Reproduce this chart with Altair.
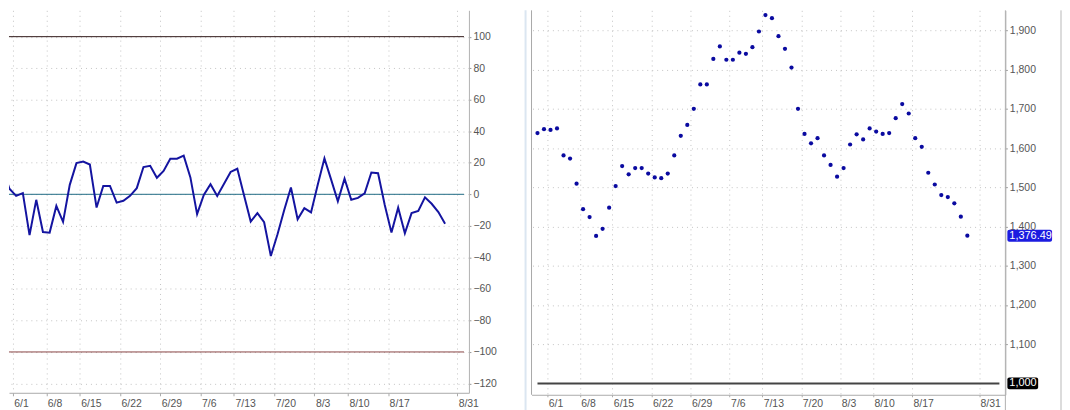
import altair as alt
import pandas as pd

# ---- data ----
osc = [16.2, 3.5, -1.0, 0.8, -25.9, -3.5, -23.9, -24.3, -7.4, -17.5, 6.0, 19.8, 20.8, 18.9,
       -8.4, 5.3, 5.3, -5.3, -4.1, -1.0, 3.9, 17.3, 18.1, 10.5, 14.8, 22.6, 22.6, 24.5, 10.7,
       -12.6, -0.4, 6.4, -1.0, 6.6, 14.2, 16.2,
       -0.6, -17.3, -11.9, -17.7, -39.1, -25.3, -9.9, 4.3, -15.8, -8.8, -11.5, 6.0, 22.8, 9.3,
       -4.5, 9.9, -3.5, -2.3, 0.6, 13.8, 13.4, -6.8, -24.3, -8.5, -24.7, -11.9, -10.5, -1.9,
       -6.0, -11.3, -18.7]
price = [1638, 1648, 1646, 1650, 1581, 1573, 1509, 1444, 1424, 1376, 1394, 1448, 1503, 1554,
         1533, 1549, 1549, 1535, 1525, 1523, 1535, 1581, 1631, 1659, 1700, 1762, 1762, 1827,
         1859, 1825, 1825, 1843, 1840, 1857, 1897, 1939, 1931, 1885, 1853, 1805,
         1700, 1636, 1612, 1625, 1581, 1557, 1527, 1549, 1609, 1635, 1622, 1650, 1642, 1636,
         1638, 1676, 1712, 1688, 1625, 1603, 1537, 1507, 1480, 1475, 1459, 1425, 1376.49]
tick_idx = [1.5, 6.5, 11.5, 17.5, 23.5, 29.5, 34.5, 40.5, 46.5, 51.5, 57.5, 67.8]
tick_labels = ["6/1", "6/8", "6/15", "6/22", "6/29", "7/6", "7/13", "7/20", "8/3", "8/10",
               "8/17", "8/31"]
osc_levels = [100, 0, -100]
osc_level_colors = ["#301818", "#1e6b84", "#8a4545"]
osc_ticks = list(range(-120, 101, 20))
price_ticks = list(range(1100, 1901, 100))
price_base = [1000]

FONT = "Liberation Sans"
LBL = "#555555"
GRID = "#c4c4c4"

df = pd.DataFrame({"i": list(range(len(osc))), "osc": osc, "px": price})
lev_df = pd.DataFrame({"lv": osc_levels, "c": osc_level_colors})
last_df = pd.DataFrame({"v": [price[-1]]})
base_df = pd.DataFrame({"v": price_base})

label_expr = ("[" + ",".join("'%s'" % t for t in tick_labels) + "][indexof(["
              + ",".join(str(v) for v in tick_idx) + "], datum.value)]")

W1, H1 = 463, 385
W2, H2 = 477, 387


def x_axis(ts, lp):
    return alt.Axis(values=tick_idx, labelExpr=label_expr, grid=True, gridDash=[1, 4],
                    gridColor=GRID, tickColor="#aaaaaa", tickSize=ts, labelAlign="left",
                    labelBaseline="top", labelPadding=lp, labelOffset=1,
                    domainColor="#aaaaaa", labelColor=LBL, labelFontSize=10.5,
                    labelFont=FONT, title=None, labelOverlap=False, labelFlush=False)


def y_axis(vals, fmt):
    return alt.Axis(values=vals, orient="right", format=fmt, grid=True, gridDash=[1, 4],
                    gridColor=GRID, tickColor="#999999", tickSize=2, labelPadding=2,
                    domainColor="#b0b0b0", labelColor=LBL, labelFontSize=10.5,
                    labelFont=FONT, title=None, labelOverlap=False, labelFlush=False)


# ---------- left panel ----------
xs1 = alt.Scale(domain=[0.934, 69.56], nice=False, zero=False)
ys1 = alt.Scale(domain=[-125.9, 116.7], nice=False, zero=False)
YA1 = y_axis(osc_ticks, "d")

line = alt.Chart(df).mark_line(color="#1414a0", strokeWidth=2, clip=True).encode(
    x=alt.X("i:Q", scale=xs1, axis=x_axis(3, 3)),
    y=alt.Y("osc:Q", scale=ys1, axis=YA1),
)
rules1 = alt.Chart(lev_df).mark_rule(strokeWidth=1).encode(
    y=alt.Y("lv:Q", scale=ys1, axis=YA1),
    color=alt.Color("c:N", scale=None),
    x=alt.value(0), x2=alt.value(W1 - 5))
left = alt.layer(rules1, line).properties(width=W1, height=H1)

# ---------- right panel ----------
xs2 = alt.Scale(domain=[-0.915, 71.84], nice=False, zero=False)
ys2 = alt.Scale(domain=[971, 1951], nice=False, zero=False)
YA2 = y_axis(price_ticks, ",d")

dots = alt.Chart(df).mark_circle(color="#0a0aa0", size=18, opacity=1).encode(
    x=alt.X("i:Q", scale=xs2, axis=x_axis(2, 2)),
    y=alt.Y("px:Q", scale=ys2, axis=YA2),
)
base_rule = alt.Chart(base_df).mark_rule(color="#444444", strokeWidth=2).encode(
    y=alt.Y("v:Q", scale=ys2, axis=YA2), x=alt.value(6), x2=alt.value(W2 - 6))
left_border = alt.Chart(base_df).mark_rule(color="#a8a8a8", strokeWidth=1).encode(
    x=alt.value(0), y=alt.value(0), y2=alt.value(H2))
sep = alt.Chart(base_df).mark_rule(color="#dbe6f1", strokeWidth=2).encode(
    x=alt.value(-6), y=alt.value(0), y2=alt.value(H2 + 16))
axis_ext = alt.Chart(base_df).mark_rule(color="#b0b0b0", strokeWidth=1).encode(
    x=alt.value(W2), y=alt.value(0), y2=alt.value(H2 + 16))
right_border = alt.Chart(base_df).mark_rule(color="#b8b8b8", strokeWidth=1).encode(
    x=alt.value(W2 + 56), y=alt.value(0), y2=alt.value(H2 + 16))

base_box = alt.Chart(base_df).mark_rect(color="#000000", cornerRadius=2,
                                        yOffset=-6, y2Offset=6).encode(
    y=alt.Y("v:Q", scale=ys2, axis=YA2), y2="v:Q",
    x=alt.value(W2 + 2), x2=alt.value(W2 + 33))
base_txt = alt.Chart(base_df).mark_text(color="white", align="left", baseline="middle",
                                        font=FONT, fontSize=11).encode(
    y=alt.Y("v:Q", scale=ys2, axis=YA2), x=alt.value(W2 + 4),
    text=alt.Text("v:Q", format=",d"))
last_box = alt.Chart(last_df).mark_rect(color="#1c1ce0", cornerRadius=2,
                                        yOffset=-6, y2Offset=6).encode(
    y=alt.Y("v:Q", scale=ys2, axis=YA2), y2="v:Q",
    x=alt.value(W2 + 2), x2=alt.value(W2 + 47))
last_txt = alt.Chart(last_df).mark_text(color="white", align="left", baseline="middle",
                                        font=FONT, fontSize=11).encode(
    y=alt.Y("v:Q", scale=ys2, axis=YA2), x=alt.value(W2 + 4),
    text=alt.Text("v:Q", format=",.2f"))

right = alt.layer(dots, base_rule, left_border, sep, axis_ext, right_border,
                  base_box, base_txt, last_box, last_txt).properties(width=W2, height=H2)

chart = alt.hconcat(left, right, spacing=63, bounds="flush").properties(
    padding=0, background="white"
).resolve_scale(x="independent", y="independent").configure_view(stroke=None)

chart.save("out.html", embed_options={"renderer": "svg", "actions": False})
